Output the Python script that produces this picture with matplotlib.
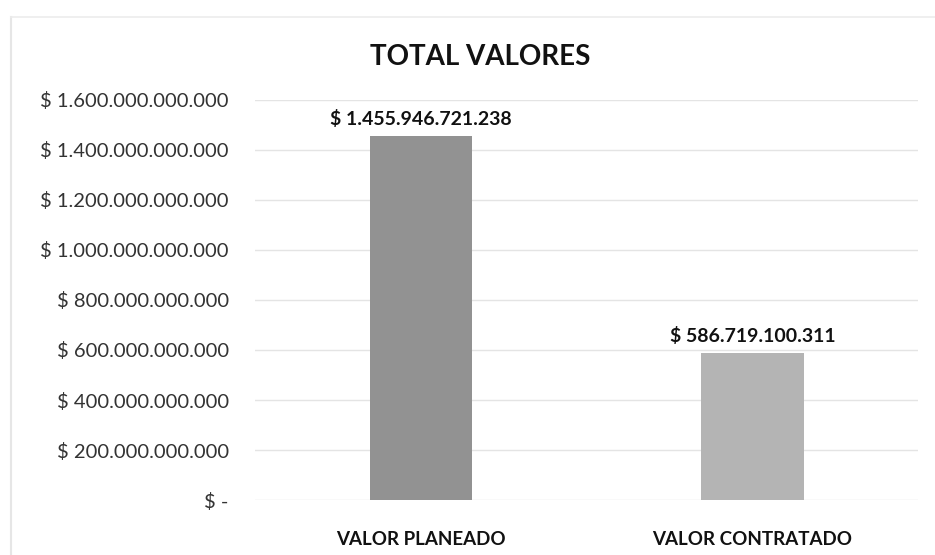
import matplotlib.pyplot as plt
from matplotlib.ticker import FuncFormatter

categories = ["VALOR PLANEADO", "VALOR CONTRATADO"]
values = [1455946721238, 586719100311]
bar_colors = ["#929292", "#b4b4b4"]
yticks = [0, 200e9, 400e9, 600e9, 800e9, 1000e9, 1200e9, 1400e9, 1600e9]

plt.rcParams['font.family'] = ['Lato', 'DejaVu Sans']


def money(v, pos=None):
    if v == 0:
        return "$ -"
    return "$ " + f"{int(round(v)):,}".replace(",", ".")


fig = plt.figure(figsize=(9.35, 5.55), dpi=100)
ax = fig.add_axes([0.273, 0.099, 0.709, 0.721])

x = range(len(categories))
bars = ax.bar(x, values, width=0.31, color=bar_colors, zorder=2)

for b, v in zip(bars, values):
    ax.annotate(money(v), (b.get_x() + b.get_width() / 2, v),
                xytext=(0, 6), textcoords="offset points",
                ha="center", va="bottom", fontsize=14, fontweight="bold",
                color="#111111")

ax.set_ylim(0, 1.6e12)
ax.set_xlim(-0.5, 1.5)
ax.set_yticks(yticks)
ax.yaxis.set_major_formatter(FuncFormatter(money))
ax.set_xticks(list(x))
ax.set_xticklabels(categories, fontsize=13.5, fontweight="bold", color="#111111")
ax.tick_params(axis="y", labelsize=14.5, labelcolor="#333333", length=0, pad=19)
ax.tick_params(axis="x", length=0, pad=22)
ax.grid(axis="y", color="#e4e4e4", linewidth=1, zorder=0)
for s in ax.spines.values():
    s.set_visible(False)

fig.text(0.514, 0.897, "TOTAL VALORES", ha="center", va="center",
         fontsize=20, fontweight="bold", color="#111111")

# faint chart border like the scanned original
fig.add_artist(plt.Line2D([0.012, 0.012], [0.0, 0.97], color="#e6e6e6",
                          linewidth=1.5, transform=fig.transFigure))
fig.add_artist(plt.Line2D([0.012, 1.0], [0.97, 0.97], color="#ececec",
                          linewidth=1.2, transform=fig.transFigure))

fig.savefig("out.png", dpi=100)
